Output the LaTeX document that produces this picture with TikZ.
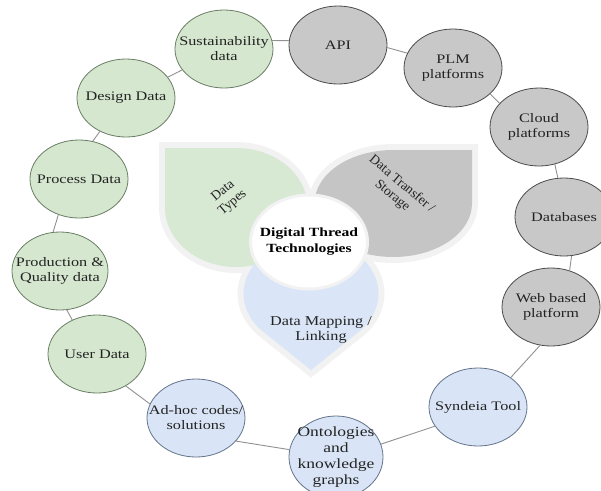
\documentclass[tikz,border=0pt]{standalone}
\usepackage{fontspec}
\setmainfont{Liberation Serif}
\usetikzlibrary{shapes.geometric}
\definecolor{gfill}{RGB}{214,231,208}
\definecolor{gline}{RGB}{105,125,100}
\definecolor{kfill}{RGB}{200,200,200}
\definecolor{kline}{RGB}{75,75,75}
\definecolor{bfill}{RGB}{217,229,246}
\definecolor{bline}{RGB}{100,115,140}
\definecolor{pgreen}{RGB}{215,232,211}
\definecolor{pgray}{RGB}{197,197,197}
\definecolor{pblue}{RGB}{218,230,247}
\definecolor{halo}{RGB}{242,242,242}
\definecolor{connc}{RGB}{145,145,145}
\definecolor{txtc}{RGB}{35,35,35}
\tikzset{
  ell/.style={ellipse, minimum width=98pt, minimum height=78pt, inner sep=0pt, line width=0.8pt},
  gell/.style={ell, fill=gfill, draw=gline},
  kell/.style={ell, fill=kfill, draw=kline},
  bell/.style={ell, fill=bfill, draw=bline},
  lbl/.style={align=center, font=\fontsize{13}{15}\selectfont, text=txtc, xscale=1.25, inner sep=0pt},
  plbl/.style={align=center, font=\fontsize{13.5}{15}\selectfont, text=txtc, inner sep=0pt},
  conn/.style={draw=connc, line width=0.9pt},
  halostyle/.style={draw=halo, line width=12pt},
}
\newcommand\PetGreen[1]{\begin{scope}[shift={(165,148)}, xscale=1.25, x=1pt, y=1pt]
  \path[#1] (0,0) -- (57,0) arc[start angle=90, end angle=-180, x radius=57, y radius=59.5] -- cycle;
\end{scope}}
\newcommand\PetGray[1]{\begin{scope}[shift={(472,150)}, xscale=1.25, x=1pt, y=1pt]
  \path[#1] (0,0) -- (-63,0) arc[start angle=90, end angle=360, x radius=63, y radius=53.5] -- cycle;
\end{scope}}
\newcommand\PetBlue[1]{\begin{scope}[shift={(311,370)}, xscale=1.25, x=1pt, y=1pt]
  \path[#1] (0,0) -- (38.2,38.2) arc[start angle=-45, end angle=225, radius=54] -- cycle;
\end{scope}}
\begin{document}
\begin{tikzpicture}[x=1pt,y=-1pt]
\useasboundingbox (0,0) rectangle (601,490);
\clip (0,0) rectangle (601,490);
% petals
\PetGreen{halostyle}
\PetGray{halostyle}
\PetBlue{halostyle}
\PetGreen{fill=pgreen}
\PetGray{fill=pgray}
\PetBlue{fill=pblue}
\node[ellipse, fill=white, draw=halo, line width=3pt, minimum width=117pt, minimum height=94pt, inner sep=0pt] (core) at (309,242) {};
\node[align=center, font=\fontsize{12.5}{16}\selectfont\bfseries, xscale=1.25, inner sep=0pt] at (core) {Digital Thread\\Technologies};
\node[plbl, rotate=40] (ptype) at (228,197) {Data\\Types};
\node[plbl, rotate=-40] (ptrans) at (397,190) {Data Transfer /\\Storage};
\node[plbl, xscale=1.2] (pmap) at (321,330) {Data Mapping /\\Linking};
% ring nodes
\node[gell] (sus) at (224,49) {};
\node[gell] (des) at (126,98) {};
\node[gell] (pro) at (79,179) {};
\node[gell, minimum width=96pt] (prq) at (60,271) {};
\node[gell] (usr) at (97,354) {};
\node[bell] (adh) at (196,418) {};
\node[bell, minimum width=94pt, minimum height=82pt] (ont) at (336,457) {};
\node[bell] (syn) at (478,407) {};
\node[kell] (web) at (551,307) {};
\node[kell] (dbs) at (564,217) {};
\node[kell] (cld) at (539,127) {};
\node[kell] (plm) at (453,68) {};
\node[kell] (api) at (338,45) {};
\node[lbl] at (sus) {Sustainability\\data};
\node[lbl] at (des) {Design Data};
\node[lbl] at (pro) {Process Data};
\node[lbl] at (prq) {Production \&\\Quality data};
\node[lbl] at (usr) {User Data};
\node[lbl] at (adh) {Ad-hoc codes/\\solutions};
\node[lbl, font=\fontsize{14}{16}\selectfont] at (ont) {Ontologies\\and\\knowledge\\graphs};
\node[lbl] at (syn) {Syndeia Tool};
\node[lbl] at (web) {Web based\\platform};
\node[lbl] at (dbs) {Databases};
\node[lbl] at (cld) {Cloud\\platforms};
\node[lbl] at (plm) {PLM\\platforms};
\node[lbl] at (api) {API};
% connectors
\draw[conn] (sus.10) -- (api.175);
\draw[conn] (des) -- (sus);
\draw[conn] (des.232) -- (pro.70);
\draw[conn] (pro.240) -- (prq.100);
\draw[conn] (prq.280) -- (usr.126);
\draw[conn] (usr.312) -- (adh.163);
\draw[conn] (adh.330) -- (ont.171);
\draw[conn] (ont.16) -- (syn.204);
\draw[conn] (syn.42) -- (web.254);
\draw[conn] (web.63) -- (dbs.281);
\draw[conn] (cld.293) -- (dbs.99);
\draw[conn] (plm.325) -- (cld.149);
\draw[conn] (api.357) -- (plm.162);
\end{tikzpicture}
\end{document}
